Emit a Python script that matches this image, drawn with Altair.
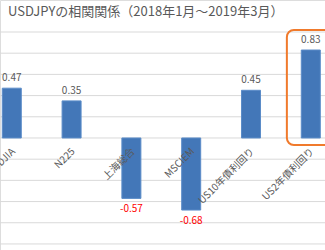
import altair as alt
import pandas as pd

title_text = "USDJPYの相関関係（2018年1月～2019年3月）"
categories = ["DJIA", "N225", "上海総合", "MSCIEM", "US10年債利回り", "US2年債利回り"]
values = [0.47, 0.35, -0.57, -0.68, 0.45, 0.83]
highlight_index = 5
grid_vals = [-1.0, -0.8, -0.6, -0.4, -0.2, 0.0, 0.2, 0.4, 0.6, 0.8, 1.0]

FONT = "Noto Sans CJK JP"
GRAY = "#595959"

df = pd.DataFrame({
    "idx": list(range(len(categories))),
    "cat": categories,
    "val": values,
    "lbl": [f"{v:.2f}" for v in values],
})

xscale = alt.Scale(domain=[-0.1135, 5.154], nice=False, zero=False)
yscale = alt.Scale(domain=[-1.057, 1.302], nice=False, zero=False)

base = alt.Chart(df)

grid = alt.Chart(pd.DataFrame({"g": grid_vals})).mark_rule(color="#d9d9d9", strokeWidth=1).encode(
    y=alt.Y("g:Q", scale=yscale, axis=None),
    x=alt.value(0), x2=alt.value(325),
)

bars = base.mark_bar(size=19, color="#4377b8", stroke="#5b8cc8", strokeWidth=1, clip=True).encode(
    x=alt.X("idx:Q", scale=xscale, axis=None),
    y=alt.Y("val:Q", scale=yscale),
    y2=alt.datum(0),
)

cat_labels = base.transform_calculate(lx="datum.idx + 0.03").mark_text(
    angle=315, align="right", baseline="middle", font=FONT,
    fontSize=10, color=GRAY).encode(
    x=alt.X("lx:Q", scale=xscale),
    y=alt.value(150),
    text="cat:N",
)

pos_labels = base.transform_filter("datum.val >= 0").mark_text(
    font=FONT, fontSize=10, color=GRAY, baseline="middle", dy=-10, clip=True).encode(
    x=alt.X("idx:Q", scale=xscale),
    y=alt.Y("val:Q", scale=yscale),
    text="lbl:N",
)
neg_labels = base.transform_filter("datum.val < 0").mark_text(
    font=FONT, fontSize=10, color="#ff0000", baseline="middle", dy=11).encode(
    x=alt.X("idx:Q", scale=xscale),
    y=alt.Y("val:Q", scale=yscale),
    text="lbl:N",
)

hv = values[highlight_index]
box_df = pd.DataFrame({"x1": [highlight_index - 0.4], "x2": [highlight_index + 0.6],
                       "y1": [hv + 0.19], "y2": [-0.066]})
box = alt.Chart(box_df).mark_rect(fill="transparent", stroke="#f07a2c", strokeWidth=2,
                                  cornerRadius=7, clip=True).encode(
    x=alt.X("x1:Q", scale=xscale), x2="x2:Q",
    y=alt.Y("y1:Q", scale=yscale), y2="y2:Q",
)

title = alt.Chart(pd.DataFrame({"t": [title_text]})).mark_text(
    font=FONT, fontSize=13, color=GRAY, align="left", baseline="middle").encode(
    x=alt.value(8), y=alt.value(12), text="t:N")

chart = alt.layer(grid, bars, cat_labels, pos_labels, neg_labels, box, title).properties(
    width=325, height=250, padding=0,
    autosize=alt.AutoSizeParams(type="none"),
).configure_view(stroke=None).configure(background="white")

chart.save("out.html", embed_options={"renderer": "svg", "actions": False})
